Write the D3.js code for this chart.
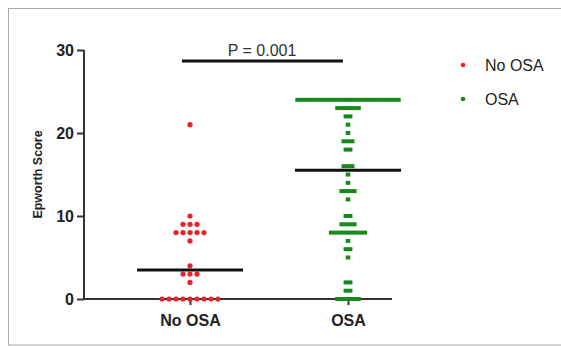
<!DOCTYPE html>
<html><head><meta charset="utf-8">
<script src="https://cdn.jsdelivr.net/npm/d3@7"></script>
<style>body{margin:0;background:#fff}svg{display:block}</style>
</head><body>
<script>
const categories = ["No OSA", "OSA"];
const noOsaValues = [21, 10, 9,9,9, 8,8,8,8,8, 7, 4, 3,3,3, 2, 0,0,0,0,0,0,0,0,0];
const osaValues = [
  ...Array(25).fill(24), 23,23,23,23,23,23, 22,22, 21, 20, 19,19,19, 18,18,
  16,16,16, 15, 14, 13,13,13,13, 12, 10,10, 9,9,9,9, 8,8,8,8,8,8,8,8,8, 7,
  6,6, 5, 2,2, 1,1, 0,0,0,0,0,0];
const medians = [3.5, 15.5];
const yTicks = [0, 10, 20, 30];
const pLabel = "P = 0.001";
const yLabel = "Epworth Score";
const legendLabels = ["No OSA", "OSA"];
const colors = ["#e8232b", "#17891a"];

const W = 561, H = 347;
const svg = d3.select("body").append("svg").attr("width", W).attr("height", H);
const font = "'Liberation Sans', Arial, Helvetica, sans-serif";

svg.append("rect").attr("x", 8.5).attr("y", 8.5).attr("width", 600).attr("height", 336.5)
  .attr("fill", "none").attr("stroke", "#aaa").attr("stroke-width", 1);

const y = d3.scaleLinear().domain([0, 30]).range([299, 50]);
const x = d3.scalePoint().domain(categories).range([190, 348]);
const axisLeft = 84, axisRight = 392;

// Y axis
const ya = svg.append("g").attr("transform", `translate(${axisLeft},0)`)
  .call(d3.axisLeft(y).tickValues(yTicks).tickSize(7).tickPadding(3).tickFormat(d3.format("d")));
ya.select(".domain").attr("stroke", "#333").attr("stroke-width", 2).attr("d", `M0,${y(30)}V${y(0)}`);
ya.selectAll(".tick line").attr("stroke", "#333").attr("stroke-width", 2);
ya.selectAll(".tick text").attr("font-family", font).attr("font-size", 16).attr("font-weight", "bold").attr("fill", "#222");

// X axis
const xa = svg.append("g").attr("transform", `translate(0,${y(0)})`)
  .call(d3.axisBottom(x).tickSize(6).tickPadding(10));
xa.select(".domain").attr("stroke", "#333").attr("stroke-width", 2).attr("d", `M${axisLeft},0H${axisRight}`);
xa.selectAll(".tick line").attr("stroke", "#333").attr("stroke-width", 2);
xa.selectAll(".tick text").attr("font-family", font).attr("font-size", 16).attr("font-weight", "bold").attr("fill", "#222");

// Y label
svg.append("text").attr("transform", `translate(42,${(y(0)+y(30))/2}) rotate(-90)`)
  .attr("text-anchor", "middle").attr("font-family", font).attr("font-size", 12.5)
  .attr("font-weight", "bold").attr("fill", "#222").text(yLabel);

function layout(values, spacing) {
  const counts = d3.rollup(values, v => v.length, d => d);
  const idx = new Map();
  return values.map(v => {
    const n = counts.get(v); const i = idx.get(v) || 0; idx.set(v, i + 1);
    return { v, off: (i - (n - 1) / 2) * spacing };
  });
}

// No OSA dots
svg.append("g").selectAll("circle").data(layout(noOsaValues, 7.0)).join("circle")
  .attr("cx", d => x(categories[0]) + d.off).attr("cy", d => y(d.v))
  .attr("r", 2.6).attr("fill", colors[0]);

// OSA squares
svg.append("g").selectAll("rect").data(layout(osaValues, 4.2)).join("rect")
  .attr("x", d => x(categories[1]) + d.off - 2.3).attr("y", d => y(d.v) - 2)
  .attr("width", 4.6).attr("height", 4).attr("fill", colors[1]);

// Median lines
svg.append("g").selectAll("line").data(medians).join("line")
  .attr("x1", (d, i) => x(categories[i]) - 53).attr("x2", (d, i) => x(categories[i]) + 53)
  .attr("y1", d => y(d)).attr("y2", d => y(d)).attr("stroke", "#111").attr("stroke-width", 3);

// P bracket
svg.append("line").attr("x1", 182).attr("x2", 343).attr("y1", 61).attr("y2", 61)
  .attr("stroke", "#111").attr("stroke-width", 3);
svg.append("text").attr("x", 262).attr("y", 56).attr("text-anchor", "middle")
  .attr("font-family", font).attr("font-size", 16).attr("fill", "#333").text(pLabel);

// Legend
const lg = svg.append("g").selectAll("g").data(legendLabels).join("g")
  .attr("transform", (d, i) => `translate(463,${65 + i * 34})`);
lg.append("circle").attr("r", 2.3).attr("fill", (d, i) => colors[i]);
lg.append("text").attr("x", 22).attr("y", 6).attr("font-family", font).attr("font-size", 16)
  .attr("fill", "#222").text(d => d);
</script>
</body></html>
